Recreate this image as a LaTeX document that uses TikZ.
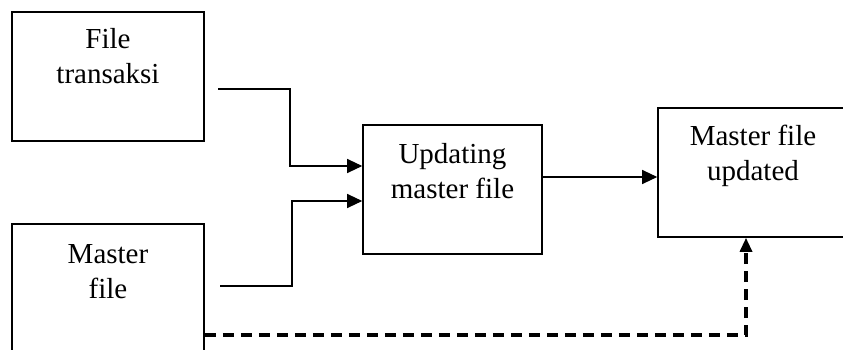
\documentclass[tikz,border=0pt]{standalone}
\usepackage{fontspec}
\setmainfont{Liberation Serif}
\usetikzlibrary{arrows.meta,calc}
\begin{document}
\begin{tikzpicture}[x=1pt,y=-1pt,
  box/.style={draw,line width=1.6pt,minimum width=192pt,minimum height=129pt,inner sep=0pt},
  lbl/.style={anchor=base,align=center,inner sep=0pt,font=\fontsize{29}{35}\selectfont},
  flow/.style={line width=1.2pt,-{Triangle[length=15pt,width=14pt]}},
  dflow/.style={line width=3.2pt,dash pattern=on 11pt off 7pt,-{Triangle[length=14pt,width=12pt]}}]
\useasboundingbox (0,0) rectangle (843,350);
\clip (0,0) rectangle (843,350);
% boxes
\node[box] (trx) at (108,76.5) {};
\node[box] (mst) at (108,288.5) {};
\node[box,minimum width=179pt] (upd) at (452.5,189.5) {};
\node[box,minimum width=190pt] (new) at (753,172.5) {};
% labels (anchored on the baseline of the last line)
\node[lbl] (trxl) at (108,84) {File\\transaksi};
\node[lbl] (mstl) at (108,298) {Master\\file};
\node[lbl] (updl) at (452.5,198) {Updating\\master file};
\node[lbl] (newl) at (753,180) {Master file\\updated};
% connector end points
\coordinate (s1) at (218,89);
\coordinate (s2) at (220,286);
\coordinate (e1) at ($(upd.west)+(0,-23.5)$);
\coordinate (e2) at ($(upd.west)+(0,11.5)$);
\coordinate (a3) at ($(upd.east)+(0,-12.5)$);
\coordinate (d0) at ($(mst.east)+(0,46.5)$);
\coordinate (d1) at ($(new.south)+(-7,0)$);
% connectors
\draw[flow] (s1) -- ++(72,0) |- (e1);
\draw[flow] (s2) -- ++(72,0) |- (e2);
\draw[flow] (a3) -- (a3 -| new.west);
\draw[dflow] (d0) -| (d1);
\end{tikzpicture}
\end{document}
